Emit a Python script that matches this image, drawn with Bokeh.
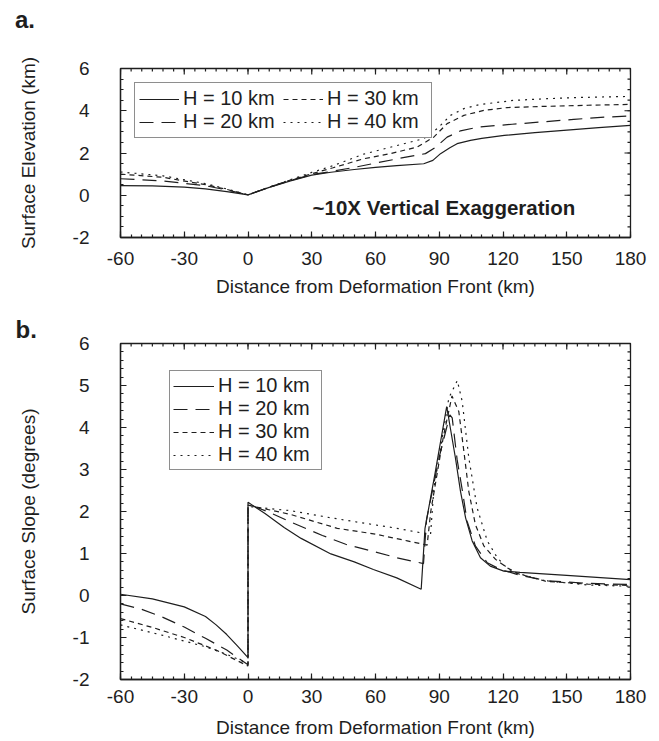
from bokeh.plotting import figure
from bokeh.models import (Range1d, FixedTicker, Label, Legend, LegendItem, Title,
                          CustomJSTickFormatter, Div)
from bokeh.layouts import column
from bokeh.embed import file_html
from bokeh.resources import INLINE

FONT = "Liberation Sans"
INK = "#1e1e1e"

# ---------------- data ----------------
series_labels = ["H = 10 km", "H = 20 km", "H = 30 km", "H = 40 km"]

x_major = [-60, -30, 0, 30, 60, 90, 120, 150, 180]
x_minor = list(range(-60, 181, 5))
elev_major = [-2, 0, 2, 4, 6]
elev_minor = [v / 2 for v in range(-4, 13)]
slope_major = [-2, -1, 0, 1, 2, 3, 4, 5, 6]
slope_minor = [v / 5 for v in range(-10, 31)]

# (a) surface elevation (km)
elev10_x = [-60, -45, -30, -20, -10, 0, 10, 20, 30, 39, 50, 60, 70, 82.7, 87, 90.6, 95, 98.4, 104.7, 110, 120.6, 135, 148.6, 165, 180]
elev10_y = [0.46, 0.44, 0.38, 0.3, 0.17, 0.02, 0.37, 0.68, 0.95, 1.09, 1.22, 1.32, 1.4, 1.49, 1.65, 1.97, 2.25, 2.44, 2.6, 2.69, 2.83, 2.96, 3.07, 3.2, 3.31]
elev20_x = [-60, -40, -20, -10, 0, 10, 20, 30, 39, 50, 59, 73, 83.5, 88, 93.7, 100, 108.5, 124.3, 137, 153.3, 168, 180]
elev20_y = [0.78, 0.68, 0.45, 0.25, 0.02, 0.38, 0.7, 0.98, 1.12, 1.32, 1.5, 1.78, 1.97, 2.25, 2.75, 3.05, 3.23, 3.36, 3.46, 3.59, 3.7, 3.75]
elev30_x = [-60, -40, -20, -10, 0, 10, 20, 30, 40, 54.5, 67, 79.6, 87.4, 93.7, 101.6, 111, 122, 137, 160, 180]
elev30_y = [1.0, 0.85, 0.5, 0.28, 0.02, 0.38, 0.72, 1.02, 1.3, 1.73, 1.97, 2.28, 2.75, 3.39, 3.78, 4.02, 4.15, 4.2, 4.26, 4.3]
elev40_x = [-60, -40, -20, -10, 0, 10, 20, 30, 40, 54.5, 70, 82.7, 89, 95.3, 101.6, 109.4, 125, 140.8, 156.5, 180]
elev40_y = [1.1, 0.92, 0.55, 0.3, 0.02, 0.38, 0.74, 1.08, 1.4, 1.95, 2.35, 2.68, 3.15, 3.78, 4.1, 4.3, 4.49, 4.57, 4.63, 4.68]

# (b) surface slope (degrees)
slope10_x = [-60, -45, -30, -20, -15, -10, -5, 0, 0, 8, 17, 25, 39, 50, 59, 70, 81.5, 83.3, 88, 93.5, 97.6, 100, 102.4, 105.5, 109.4, 114, 120.4, 128, 150, 180]
slope10_y = [0.03, -0.08, -0.27, -0.5, -0.7, -0.93, -1.2, -1.48, 2.22, 1.95, 1.62, 1.36, 0.99, 0.8, 0.62, 0.42, 0.15, 1.6, 2.9, 4.5, 3.28, 2.48, 1.85, 1.3, 0.9, 0.7, 0.58, 0.55, 0.48, 0.38]
slope20_x = [-60, -50, -40, -30, -20, -10, 0, 0, 10, 20, 35, 46, 58, 70, 82.6, 84, 90, 95, 96.1, 98.4, 100.8, 103.1, 107, 112.6, 118.8, 128, 141, 160, 180]
slope20_y = [-0.2, -0.33, -0.52, -0.75, -1.02, -1.3, -1.65, 2.18, 1.98, 1.75, 1.43, 1.22, 1.06, 0.9, 0.76, 1.8, 3.3, 4.3, 4.23, 3.24, 2.52, 1.77, 1.18, 0.78, 0.62, 0.48, 0.35, 0.29, 0.26]
slope30_x = [-60, -45, -30, -15, 0, 0, 20, 36, 42, 60, 75, 84.3, 86, 92, 96, 99.2, 101.6, 103.9, 107, 111, 116.5, 122, 127, 140, 160, 180]
slope30_y = [-0.55, -0.76, -1.0, -1.3, -1.68, 2.15, 1.93, 1.69, 1.6, 1.46, 1.3, 1.2, 2.0, 3.8, 4.75, 4.38, 3.43, 2.48, 1.69, 1.18, 0.86, 0.66, 0.52, 0.34, 0.27, 0.24]
slope40_x = [-60, -40, -20, -10, 0, 0, 20, 39, 55, 70, 85.9, 87.5, 91.4, 94.5, 98.5, 100.8, 103.9, 107.8, 112.6, 117.3, 121, 125, 140, 160, 180]
slope40_y = [-0.7, -0.95, -1.22, -1.4, -1.62, 2.12, 2.02, 1.85, 1.72, 1.6, 1.45, 2.56, 3.75, 4.7, 5.12, 4.62, 3.28, 2.09, 1.3, 0.9, 0.7, 0.55, 0.35, 0.25, 0.22]

elev_series = [(elev10_x, elev10_y), (elev20_x, elev20_y), (elev30_x, elev30_y), (elev40_x, elev40_y)]
slope_series = [(slope10_x, slope10_y), (slope20_x, slope20_y), (slope30_x, slope30_y), (slope40_x, slope40_y)]
dashes = ["solid", "14 8", "5 4", "2 5"]

x_title = "Distance from Deformation Front (km)"
X0, X1 = -60, 180
Y0, Y1 = -2, 6
FRAME_W = 510
MAJOR_PX, MINOR_PX = 6, 3

plain = CustomJSTickFormatter(code="return String(tick)")


def mirror_ticks(p, y_major, y_minor, frame_h):
    # inward ticks on the top and right edges of the frame
    ux = (X1 - X0) / FRAME_W
    uy = (Y1 - Y0) / frame_h
    kw = dict(line_color=INK, line_width=1.2)
    for xs, px in ((x_minor, MINOR_PX), (x_major, MAJOR_PX)):
        n = len(xs)
        p.segment(x0=xs, y0=[Y1] * n, x1=xs, y1=[Y1 - px * uy] * n, **kw)
    for ys, px in ((y_minor, MINOR_PX), (y_major, MAJOR_PX)):
        n = len(ys)
        p.segment(x0=[X1] * n, y0=ys, x1=[X1 - px * ux] * n, y1=ys, **kw)


def dress(p, y_major, y_minor, ylabel, xl_standoff, xal_standoff, frame_h):
    bottom = p.below[0]
    left = p.left[0]
    bottom.ticker = FixedTicker(ticks=x_major, minor_ticks=x_minor)
    left.ticker = FixedTicker(ticks=y_major, minor_ticks=y_minor)
    for ax in (bottom, left):
        ax.formatter = plain
        ax.axis_line_color = INK
        ax.axis_line_width = 1.3
        ax.major_tick_in = MAJOR_PX
        ax.major_tick_out = 0
        ax.minor_tick_in = MINOR_PX
        ax.minor_tick_out = 0
        ax.major_tick_line_color = INK
        ax.minor_tick_line_color = INK
        ax.major_tick_line_width = 1.2
        ax.minor_tick_line_width = 1.2
        ax.major_label_text_font = FONT
        ax.major_label_text_font_size = "19px"
        ax.major_label_text_color = INK
        ax.axis_label_text_font = FONT
        ax.axis_label_text_font_size = "19px"
        ax.axis_label_text_font_style = "normal"
        ax.axis_label_text_color = INK
    bottom.axis_label = x_title
    bottom.major_label_standoff = xl_standoff
    bottom.axis_label_standoff = xal_standoff
    left.axis_label = ylabel
    left.major_label_standoff = 31
    left.axis_label_standoff = 31
    p.grid.visible = False
    p.outline_line_color = INK
    p.outline_line_width = 1.3
    mirror_ticks(p, y_major, y_minor, frame_h)


def make_legend(p, renderers, **kw):
    items = [LegendItem(label=lab, renderers=[r]) for lab, r in zip(series_labels, renderers)]
    lg = Legend(items=items, **kw)
    lg.label_text_font = FONT
    lg.label_text_font_size = "20px"
    lg.label_text_color = INK
    lg.border_line_color = INK
    lg.border_line_width = 1.5
    lg.background_fill_alpha = 1.0
    lg.spacing = 0
    lg.margin = 0
    lg.label_standoff = 4
    p.add_layout(lg)
    return lg


# ---------------- panel tag "a." ----------------
tag_a = Div(text="a.", width=659, height=30, margin=(0, 0, 0, 0),
            styles={"font-family": FONT, "font-weight": "bold", "font-size": "24px",
                    "color": INK, "padding-left": "15px", "padding-top": "6px",
                    "line-height": "normal"})

# ---------------- panel a ----------------
p1 = figure(width=659, height=282, x_range=Range1d(X0, X1), y_range=Range1d(Y0, Y1),
            output_backend="svg", toolbar_location=None,
            min_border_left=120, min_border_right=29, min_border_top=38, min_border_bottom=75)
dress(p1, elev_major, elev_minor, "Surface Elevation (km)", 14, 8, 169)
r1 = [p1.line(sx, sy, line_color=INK, line_width=1.2, line_dash=d)
      for (sx, sy), d in zip(elev_series, dashes)]
lg1 = make_legend(p1, r1, location="top_left", orientation="vertical", nrows=2)
lg1.margin = 14
lg1.padding = 4
lg1.glyph_width = 40
lg1.label_width = 100
p1.add_layout(Label(x=30.4, y=-0.58, text="~10X Vertical Exaggeration", text_font=FONT,
                    text_font_style="bold", text_font_size="20.5px", text_color=INK,
                    text_baseline="middle"))

# ---------------- panel b ----------------
p2 = figure(width=659, height=429, x_range=Range1d(X0, X1), y_range=Range1d(Y0, Y1),
            output_backend="svg", toolbar_location=None,
            min_border_left=120, min_border_right=29, min_border_top=30, min_border_bottom=62)
dress(p2, slope_major, slope_minor, "Surface Slope (degrees)", 10, 11, 337)
r2 = [p2.line(sx, sy, line_color=INK, line_width=1.2, line_dash=d)
      for (sx, sy), d in zip(slope_series, dashes)]
lg2 = make_legend(p2, r2, location=(49, 209), orientation="vertical")
lg2.padding = 3
lg2.glyph_width = 41
lg2.label_width = 100
p2.add_layout(Title(text="b.", align="left", offset=-105, standoff=2,
                    text_font=FONT, text_font_style="bold", text_font_size="24px",
                    text_color=INK), "above")

layout = column(tag_a, p1, p2)
open("out.html", "w").write(file_html(layout, INLINE))
